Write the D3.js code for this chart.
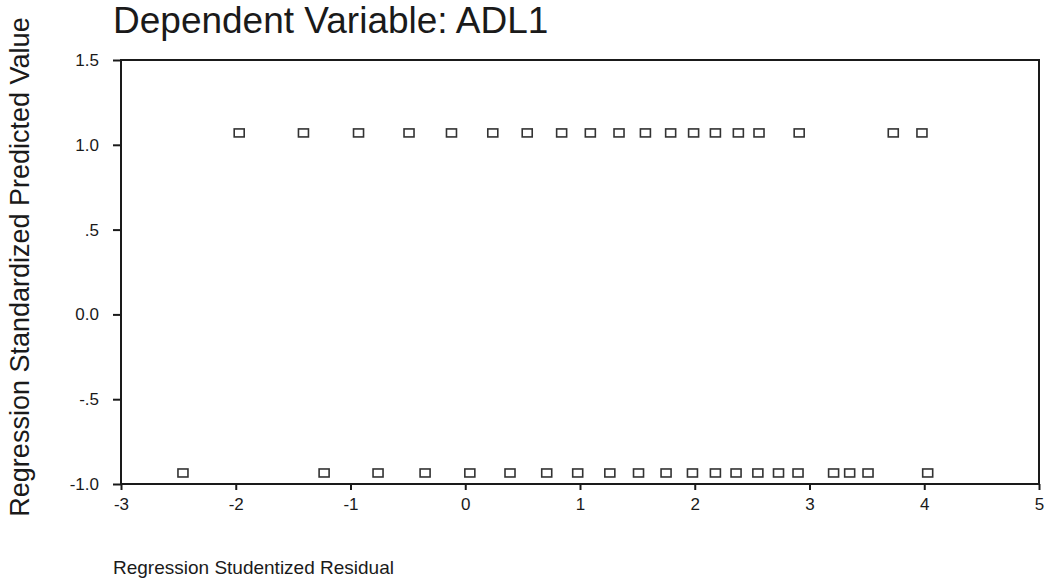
<!DOCTYPE html>
<html>
<head>
<meta charset="utf-8">
<script src="https://cdn.jsdelivr.net/npm/d3@7.9.0/dist/d3.min.js"></script>
<style>
  body { margin: 0; background: #fff; }
  svg { display: block; font-family: "Liberation Sans", Arial, Helvetica, sans-serif; }
</style>
</head>
<body>
<div id="chart"></div>
<script>
// ---------------- data ----------------
const upperResidual = [-1.97, -1.41, -0.93, -0.49, -0.12, 0.24, 0.54, 0.84, 1.09, 1.34, 1.57, 1.79, 1.99, 2.18, 2.38, 2.56, 2.91, 3.73, 3.98];
const lowerResidual = [-2.46, -1.23, -0.76, -0.35, 0.04, 0.39, 0.71, 0.98, 1.26, 1.51, 1.75, 1.98, 2.18, 2.36, 2.55, 2.73, 2.90, 3.21, 3.35, 3.51, 4.03];
const upperPredicted = 1.07;
const lowerPredicted = -0.935;

const xTicks = [-3, -2, -1, 0, 1, 2, 3, 4, 5];
const yTicks = [-1, -0.5, 0, 0.5, 1, 1.5];
const yTickLabels = ["-1.0", "-.5", "0.0", ".5", "1.0", "1.5"];

const points = [
  ...upperResidual.map(r => ({ x: r, y: upperPredicted })),
  ...lowerResidual.map(r => ({ x: r, y: lowerPredicted }))
];

// ---------------- chart ----------------
const width = 1047, height = 580;
const margin = { top: 60, right: 8, bottom: 96, left: 121 };

const svg = d3.select("#chart").append("svg")
  .attr("width", width).attr("height", height);

const x = d3.scaleLinear().domain([-3, 5]).range([margin.left, width - margin.right]);
const y = d3.scaleLinear().domain([-1, 1.5]).range([height - margin.bottom, margin.top]);

const ink = "#1a1a1a";

// frame
svg.append("rect")
  .attr("x", x(-3)).attr("y", y(1.5))
  .attr("width", x(5) - x(-3)).attr("height", y(-1) - y(1.5))
  .attr("fill", "none").attr("stroke", ink).attr("stroke-width", 2);

// y axis
const yAxis = svg.append("g")
  .attr("transform", `translate(${x(-3)},0)`)
  .call(d3.axisLeft(y).tickValues(yTicks).tickSize(8).tickPadding(14)
    .tickFormat((d, i) => yTickLabels[i]));
yAxis.select(".domain").remove();
yAxis.selectAll("line").attr("stroke", ink).attr("stroke-width", 2);
yAxis.selectAll("text").attr("font-size", "17px").attr("fill", ink)
  .attr("font-family", "Liberation Sans, Arial, sans-serif");

// x axis
const xAxis = svg.append("g")
  .attr("transform", `translate(0,${y(-1)})`)
  .call(d3.axisBottom(x).tickValues(xTicks).tickSize(6).tickPadding(8)
    .tickFormat(d => String(d)));
xAxis.select(".domain").remove();
xAxis.selectAll("line").attr("stroke", ink).attr("stroke-width", 2);
xAxis.selectAll("text").attr("font-size", "17px").attr("fill", ink)
  .attr("font-family", "Liberation Sans, Arial, sans-serif");

// points
svg.append("g").selectAll("rect").data(points).enter().append("rect")
  .attr("x", d => x(d.x) - 5)
  .attr("y", d => y(d.y) - 4)
  .attr("width", 10).attr("height", 8)
  .attr("fill", "#fff")
  .attr("stroke", "#333")
  .attr("stroke-width", 1.6);

// title
svg.append("text")
  .attr("x", 113).attr("y", 33)
  .attr("font-size", "37px").attr("fill", ink)
  .text("Dependent Variable: ADL1");

// y title
svg.append("text")
  .attr("transform", `translate(29,267) rotate(-90)`)
  .attr("text-anchor", "middle")
  .attr("font-size", "27px").attr("fill", ink)
  .text("Regression Standardized Predicted Value");

// x title
svg.append("text")
  .attr("x", 113).attr("y", 574)
  .attr("font-size", "19px").attr("fill", ink)
  .text("Regression Studentized Residual");
</script>
</body>
</html>
